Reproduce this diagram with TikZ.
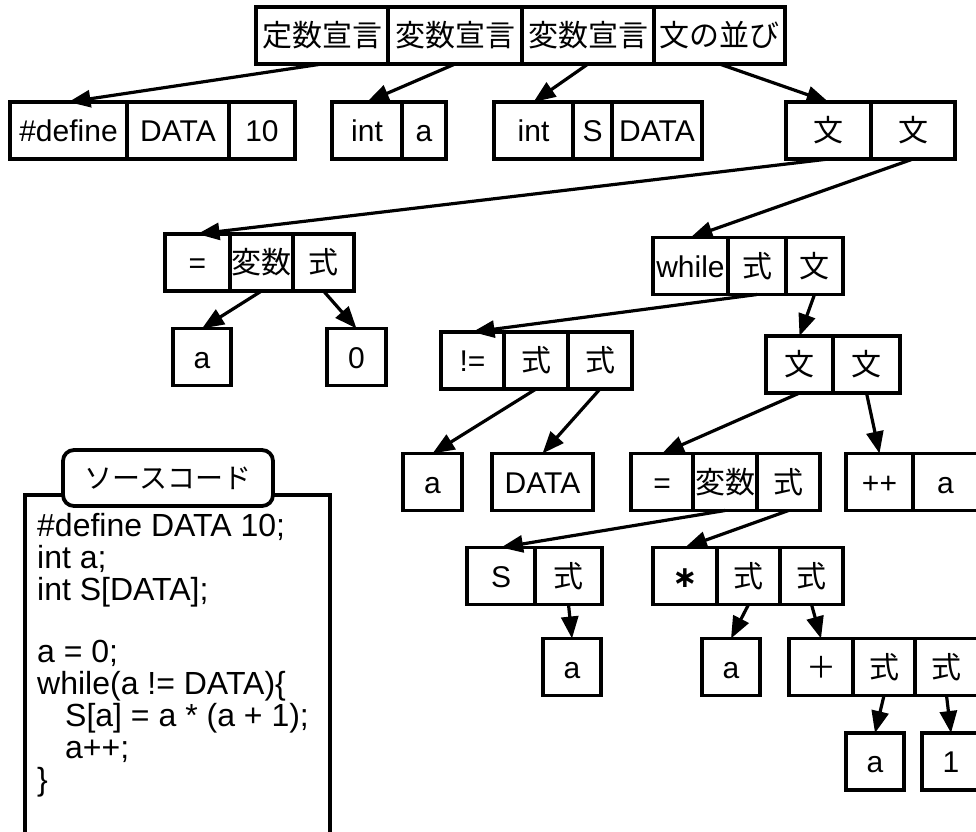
\documentclass[tikz,border=0pt]{standalone}
\usepackage{fontspec}
\setmainfont{Liberation Sans}
\newfontfamily\jpfont{Noto Sans CJK JP}
\newfontfamily\symfont{DejaVu Sans}
\usepackage{tikz}
\usetikzlibrary{positioning, arrows.meta}

\tikzset{
	cell/.style={draw, line width=3.8pt, outer sep=0pt, inner sep=0pt, minimum height=57pt, text height=22pt, text depth=0pt, font=\fontsize{30}{36}\selectfont},
	jcell/.style={cell, font=\jpfont\fontsize{30}{36}\selectfont},
	arr/.style={-{Triangle[length=22pt, width=17pt]}, line width=3.2pt},
}

\begin{document}
\begin{tikzpicture}[x=1pt, y=-1pt, node distance=0pt]
		\useasboundingbox (0,0) rectangle (976,831);
		\clip (0,0) rectangle (976,831);

		% nodes - program %
		\node[jcell, minimum width=132] (decl1) at (322,35.5) {定数宣言};
		\node[jcell, minimum width=134, right = of decl1] (decl2) {変数宣言};
		\node[jcell, minimum width=132, right = of decl2] (decl3) {変数宣言};
		\node[jcell, minimum width=131, right = of decl3] (stmts) {文の並び};

		% nodes - declarations %
		\node[cell, minimum width=117] (def) at (68.5,130.5) {\#define};
		\node[cell, minimum width=102, right = of def] (defname) {DATA};
		\node[cell, minimum width=66, right = of defname] (defval) {10};
		\node[cell, minimum width=70] (int1) at (367,130.5) {int};
		\node[cell, minimum width=44, right = of int1] (var1) {a};
		\node[cell, minimum width=79] (int2) at (533.5,130.5) {int};
		\node[cell, minimum width=39, right = of int2] (var2) {S};
		\node[cell, minimum width=90, right = of var2] (size2) {DATA};
		\node[jcell, minimum width=85] (st1) at (828.5,130.5) {文};
		\node[jcell, minimum width=84, right = of st1] (st2) {文};

		% nodes - a = 0 %
		\node[cell, minimum width=65] (asg1) at (197.5,262.5) {=};
		\node[jcell, minimum width=63, right = of asg1] (asg1v) {変数};
		\node[jcell, minimum width=61, right = of asg1v] (asg1e) {式};
		\node[cell, minimum width=58] (a1) at (202,357) {a};
		\node[cell, minimum width=59] (zero) at (356.5,357) {0};

		% nodes - while %
		\node[cell, minimum width=75] (wh) at (690.5,266) {while};
		\node[jcell, minimum width=58, right = of wh] (whe) {式};
		\node[jcell, minimum width=57, right = of whe] (whs) {文};
		\node[cell, minimum width=63] (ne) at (472.5,360.5) {!=};
		\node[jcell, minimum width=64, right = of ne] (nee1) {式};
		\node[jcell, minimum width=64, right = of nee1] (nee2) {式};
		\node[cell, minimum width=59] (a2) at (432.5,482) {a};
		\node[cell, minimum width=101] (data) at (542.5,482) {DATA};
		\node[jcell, minimum width=67] (blk1) at (799.5,364.5) {文};
		\node[jcell, minimum width=67, right = of blk1] (blk2) {文};

		% nodes - loop body %
		\node[cell, minimum width=62] (asg2) at (662,482) {=};
		\node[jcell, minimum width=64, right = of asg2] (asg2v) {変数};
		\node[jcell, minimum width=63, right = of asg2v] (asg2e) {式};
		\node[cell, minimum width=67] (inc) at (879.5,482) {++};
		\node[cell, minimum width=65, right = of inc] (incv) {a};
		\node[cell, minimum width=68] (idx) at (501,576) {S};
		\node[jcell, minimum width=67, right = of idx] (idxe) {式};
		\node[cell, minimum width=58] (a3) at (572,667) {a};
		\node[cell, minimum width=64] (mul) at (685,576) {\symfont\bfseries ∗};
		\node[jcell, minimum width=63, right = of mul] (mule1) {式};
		\node[jcell, minimum width=63, right = of mule1] (mule2) {式};
		\node[cell, minimum width=58] (a4) at (731,667) {a};
		\node[jcell, minimum width=64] (add) at (821,667) {＋};
		\node[jcell, minimum width=62, right = of add] (adde1) {式};
		\node[jcell, minimum width=63, right = of adde1] (adde2) {式};
		\node[cell, minimum width=58] (a5) at (875,761.5) {a};
		\node[cell, minimum width=58] (one) at (951,761.5) {1};

		% edges %
		\draw[arr] (decl1.south) -- (def.north);
		\draw[arr] (decl2.south) -- (int1.north);
		\draw[arr] (decl3.south) -- (int2.north);
		\draw[arr] (stmts.south) -- (st1.north);
		\draw[arr] (st1.south) -- (asg1.north);
		\draw[arr] (st2.south) -- (wh.north);
		\draw[arr] (asg1v.south) -- (a1.north);
		\draw[arr] (asg1e.south) -- (zero.north);
		\draw[arr] (whe.south) -- (ne.north);
		\draw[arr] (whs.south) -- (blk1.north);
		\draw[arr] (nee1.south) -- (a2.north);
		\draw[arr] (nee2.south) -- (data.north);
		\draw[arr] (blk1.south) -- (asg2.north);
		\draw[arr] (blk2.south) -- (inc.north);
		\draw[arr] (asg2v.south) -- (idx.north);
		\draw[arr] (asg2e.south) -- (mul.north);
		\draw[arr] (idxe.south) -- (a3.north);
		\draw[arr] (mule1.south) -- (a4.north);
		\draw[arr] (mule2.south) -- (add.north);
		\draw[arr] (adde1.south) -- (a5.north);
		\draw[arr] (adde2.south) -- (one.north);

		% source code box %
		\draw[line width=3.8pt] (25,900) -- (25,495) -- (330,495) -- (330,900);
		\node[anchor=north west, inner sep=0pt, align=left, font=\fontsize{32}{32}\selectfont] (src) at (37,513) {\#define DATA 10;\\int a;\\int S[DATA];\\[30pt]a = 0;\\while(a != DATA)\{\\\hspace*{28pt}S[a] = a * (a + 1);\\\hspace*{28pt}a++;\\\}};
		\node[draw, line width=3.8pt, fill=white, rounded corners=11pt, minimum width=210, minimum height=56, inner sep=0pt, font=\jpfont\fontsize{28}{34}\selectfont] (title) at (168,478) {ソースコード};

\end{tikzpicture}
\end{document}
